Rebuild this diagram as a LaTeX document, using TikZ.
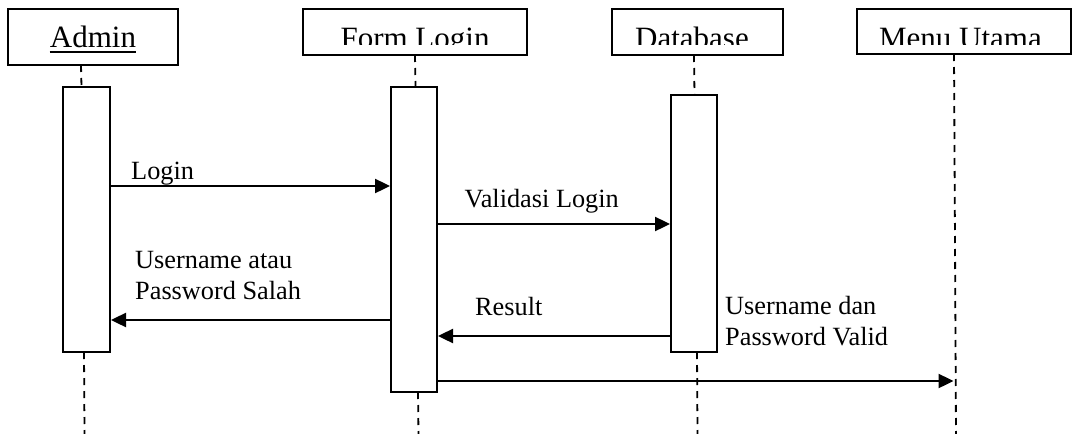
\documentclass[tikz,border=0pt]{standalone}
\usepackage{fontspec}
\setmainfont{Liberation Serif}
\usetikzlibrary{arrows.meta}
\begin{document}
\begin{tikzpicture}[x=1pt,y=-1pt,
  frame/.style={draw, line width=2pt, inner sep=0pt},
  lifeline/.style={line width=1.8pt, dash pattern=on 7pt off 6pt},
  msg/.style={line width=2.4pt, -{Triangle[length=15pt,width=14pt]}},
  hdr/.style={font=\fontsize{31}{36}\selectfont, inner sep=0pt, anchor=base},
  lbl/.style={font=\fontsize{26.3}{31}\selectfont, inner sep=0pt, anchor=base west}]
\useasboundingbox (0,0) rectangle (1072,434);

% object boxes
\node[frame, minimum width=170pt, minimum height=56pt] (hAdmin) at (93,37) {};
\node[frame, minimum width=224pt, minimum height=46pt] (hForm) at (415,32) {};
\node[frame, minimum width=171pt, minimum height=46pt] (hDB) at (697.5,32) {};
\node[frame, minimum width=214pt, minimum height=45pt] (hMenu) at (964,31.5) {};

% object names
\node[hdr] (tAdmin) at (93,47) {Admin};
\draw[line width=1.8pt] ([yshift=-5pt]tAdmin.base west) -- ([yshift=-5pt]tAdmin.base east);
\begin{scope}
  \clip (0,0) rectangle (1072,44.5);
  \node[hdr] (tForm) at (415,48) {Form Login};
  \node[hdr] (tDB) at (692,48) {Database};
  \node[hdr] (tMenu) at (960.5,48) {Menu Utama};
\end{scope}

% activation bars
\node[frame, minimum width=47pt, minimum height=265pt] (actA) at (86.5,219.5) {};
\node[frame, minimum width=46pt, minimum height=305pt] (actF) at (414,239.5) {};
\node[frame, minimum width=46pt, minimum height=257pt] (actD) at (694,223.5) {};

% lifelines
\draw[lifeline] (81,65) -- (81.5,87);
\draw[lifeline] (84,352) -- (84.5,434);
\draw[lifeline] (415,55) -- (415.5,87);
\draw[lifeline] (418,392) -- (418.5,434);
\draw[lifeline] (694,55) -- (694.5,95);
\draw[lifeline] (697,352) -- (697.5,434);
\draw[lifeline] (954,54) -- (956,434);

% message levels
\coordinate (m1) at (0,186);
\coordinate (m2) at (0,224);
\coordinate (m3) at (0,320);
\coordinate (m4) at (0,336);
\coordinate (m5) at (0,381);
\coordinate (menuEnd) at (953.5,381);

% messages
\draw[msg] (actA.east |- m1) -- (actF.west |- m1);
\draw[msg] (actF.east |- m2) -- (actD.west |- m2);
\draw[msg] (actF.west |- m3) -- (actA.east |- m3);
\draw[msg] (actD.west |- m4) -- (actF.east |- m4);
\draw[msg] (actF.east |- m5) -- (menuEnd);

% message labels
\node[lbl] (lLogin) at (131,179) {Login};
\node[lbl] (lValid) at (464.5,207) {Validasi Login};
\node[lbl] (lSalahA) at (135,268) {Username atau};
\node[lbl] (lSalahB) at (135,299) {Password Salah};
\node[lbl] (lResult) at (475,315) {Result};
\node[lbl] (lOkA) at (725,314) {Username dan};
\node[lbl] (lOkB) at (725,345) {Password Valid};
\end{tikzpicture}
\end{document}
